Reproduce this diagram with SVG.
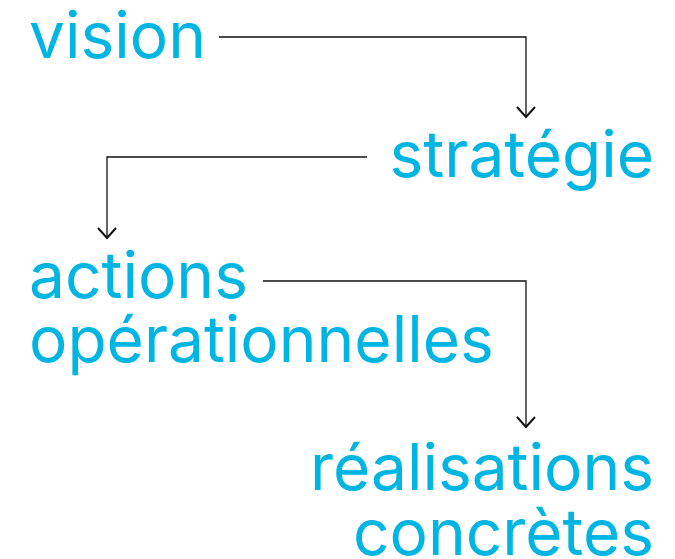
<svg xmlns="http://www.w3.org/2000/svg" width="675" height="559" viewBox="0 0 675 559">
<defs>
<style>
.t{font-family:Inter,"Liberation Sans",sans-serif;font-size:64px;fill:#00b5e2;}
.c{fill:none;stroke:#111;stroke-width:1.3;}
.a{fill:none;stroke:#111;stroke-width:2;}
</style>
</defs>
<rect width="675" height="559" fill="#fff"/>
<g id="connectors">
<path class="c" d="M219 37H526V117"/>
<path class="a" d="M517 107L526 117L535 107"/>
<path class="c" d="M367 157H107V238"/>
<path class="a" d="M98 228L107 238L116 228"/>
<path class="c" d="M263 281H526V427"/>
<path class="a" d="M517 417L526 427L535 417"/>
</g>
<g id="vision"><text class="t" x="29" y="58">vision</text></g>
<g id="strategie"><text class="t" x="654" y="177" text-anchor="end">stratégie</text></g>
<g id="actions"><text class="t" x="29" y="298">actions</text><text class="t" x="29" y="362">opérationnelles</text></g>
<g id="realisations"><text class="t" x="654" y="490" text-anchor="end">réalisations</text><text class="t" x="654" y="555" text-anchor="end">concrètes</text></g>
</svg>
